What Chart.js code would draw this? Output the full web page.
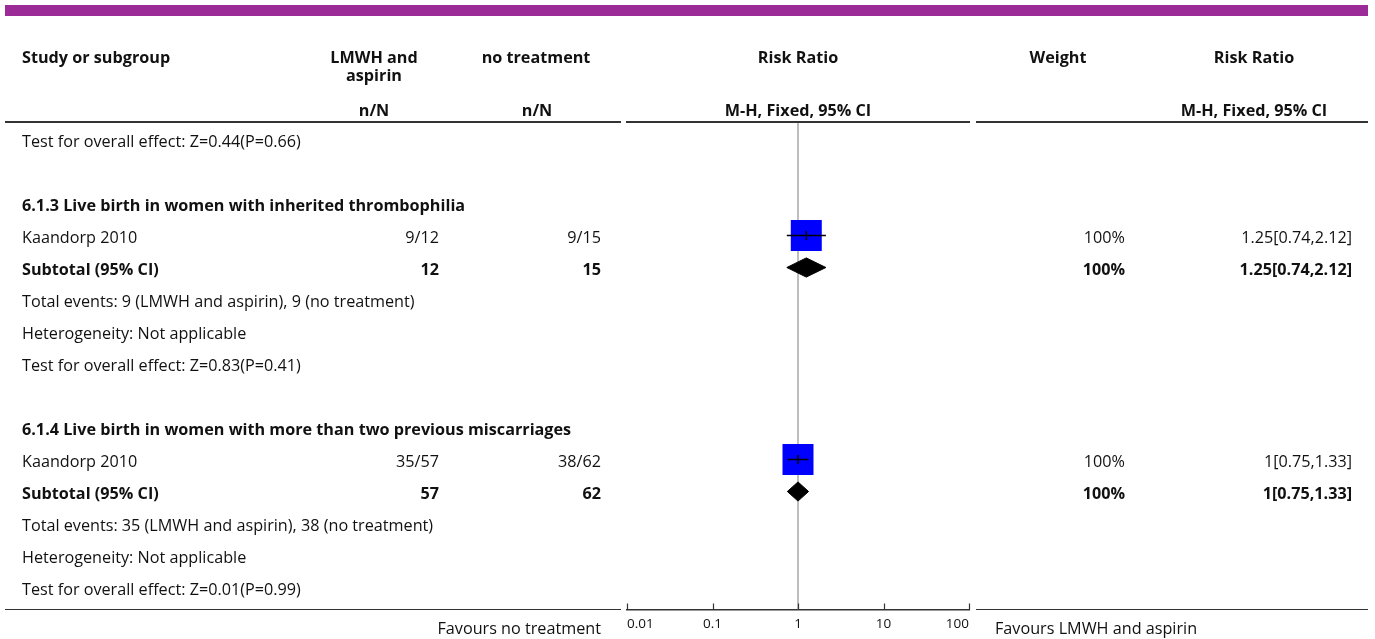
<!DOCTYPE html>
<html>
<head>
<meta charset="utf-8">
<script src="https://cdn.jsdelivr.net/npm/chart.js@4/dist/chart.umd.min.js"></script>
<style>
  html, body { margin: 0; padding: 0; background: #fff; }
  #page { position: relative; width: 1375px; height: 639px; overflow: hidden; font-family: "Open Sans", "Noto Sans", sans-serif; color: #111; }
  #page canvas { position: absolute; left: 0; top: 0; }
  .t { position: absolute; white-space: nowrap; font-size: 16.2px; line-height: 18px; transform: translateY(-50%); }
  .b { font-weight: bold; }
  .c { text-align: center; transform: translate(-50%, -50%); }
  .hl { position: absolute; height: 1.5px; background: #333; }
</style>
</head>
<body>
<div id="page">
  <canvas id="cv" width="1375" height="639"></canvas>
</div>
<script>
// ---------------- data ----------------
const rowLabels = [
  "Test for overall effect: Z=0.44(P=0.66)",
  "",
  "6.1.3 Live birth in women with inherited thrombophilia",
  "Kaandorp 2010",
  "Subtotal (95% CI)",
  "Total events: 9 (LMWH and aspirin), 9 (no treatment)",
  "Heterogeneity: Not applicable",
  "Test for overall effect: Z=0.83(P=0.41)",
  "",
  "6.1.4 Live birth in women with more than two previous miscarriages",
  "Kaandorp 2010",
  "Subtotal (95% CI)",
  "Total events: 35 (LMWH and aspirin), 38 (no treatment)",
  "Heterogeneity: Not applicable",
  "Test for overall effect: Z=0.01(P=0.99)"
];
const rowKinds = ["info","blank","group","study","subtotal","info","info","info","blank","group","study","subtotal","info","info","info"];

// individual studies
const studyRows    = [3, 10];
const studyEvents1 = ["9/12", "35/57"];
const studyEvents2 = ["9/15", "38/62"];
const studyRR      = [1.25, 1];
const studyLo      = [0.74, 0.75];
const studyHi      = [2.12, 1.33];
const studyWeight  = [100, 100];
const studyRRText  = ["1.25[0.74,2.12]", "1[0.75,1.33]"];

// subtotals
const subRows   = [4, 11];
const subN1     = ["12", "57"];
const subN2     = ["15", "62"];
const subRR     = [1.25, 1];
const subLo     = [0.74, 0.75];
const subHi     = [2.12, 1.33];
const subWeight = ["100%", "100%"];
const subRRText = ["1.25[0.74,2.12]", "1[0.75,1.33]"];

// axis
const xTicks      = [0.01, 0.1, 1, 10, 100];
const xTickLabels = ["0.01", "0.1", "1", "10", "100"];
const leftFavours  = "Favours no treatment";
const rightFavours = "Favours LMWH and aspirin";

// ---------------- layout constants ----------------
const Y_MIN = -0.547, Y_MAX = 14.6875;
const SQUARE_R_FULL = 21.9;   // point radius for 100% weight
const DIAMOND_HALF = 0.3;     // in row units

// ---------------- datasets ----------------
const datasets = [];
datasets.push({
  label: 'null', data: [{x: 1, y: Y_MIN}, {x: 1, y: Y_MAX}],
  showLine: true, borderColor: '#a8a8a8', borderWidth: 1.5, pointRadius: 0, order: 10
});
datasets.push({
  label: 'squares',
  data: studyRows.map((r, i) => ({x: studyRR[i], y: r})),
  pointStyle: 'rect',
  pointRadius: studyWeight.map(w => SQUARE_R_FULL * Math.sqrt(w / 100)),
  backgroundColor: '#0000ff', borderColor: '#0000ff', borderWidth: 0, order: 8
});
studyRows.forEach((r, i) => {
  datasets.push({
    label: 'ci' + i, data: [{x: studyLo[i], y: r}, {x: studyHi[i], y: r}],
    showLine: true, borderColor: '#000', borderWidth: 1.5, pointRadius: 0, order: 6
  });
});
datasets.push({
  label: 'centers',
  data: studyRows.map((r, i) => ({x: studyRR[i], y: r})),
  pointStyle: 'line', rotation: 90, pointRadius: 4.5,
  borderColor: '#000', borderWidth: 1.5, order: 5
});
subRows.forEach((r, i) => {
  datasets.push({
    label: 'diamond' + i,
    data: [
      {x: subLo[i], y: r}, {x: subRR[i], y: r - DIAMOND_HALF},
      {x: subHi[i], y: r}, {x: subRR[i], y: r + DIAMOND_HALF},
      {x: subLo[i], y: r}
    ],
    showLine: true, fill: 'shape', backgroundColor: '#000', borderColor: '#000',
    borderWidth: 1, pointRadius: 0, order: 4
  });
});

const tickMarks = {
  id: 'tickMarks',
  afterDraw(chart) {
    const xs = chart.scales.x, ctx = chart.ctx, b = chart.chartArea.bottom;
    ctx.save();
    ctx.strokeStyle = '#333'; ctx.lineWidth = 1.2;
    xs.ticks.forEach(t => {
      const px = Math.round(xs.getPixelForValue(t.value)) + 0.5;
      ctx.beginPath(); ctx.moveTo(px, b - 6); ctx.lineTo(px, b); ctx.stroke();
    });
    ctx.restore();
  }
};

const chart = new Chart(document.getElementById('cv'), {
  type: 'scatter',
  data: { datasets },
  plugins: [tickMarks],
  options: {
    responsive: false, animation: false, devicePixelRatio: 1, events: [],
    layout: { padding: { left: 627, right: 406, top: 122, bottom: 0 } },
    plugins: { legend: { display: false }, tooltip: { enabled: false } },
    scales: {
      x: {
        type: 'logarithmic', min: 0.01, max: 100,
        afterBuildTicks: s => { s.ticks = xTicks.map(v => ({value: v})); },
        afterFit: s => { s.height = 29.5; },
        grid: { display: false, drawTicks: false },
        border: { display: true, color: '#333', width: 1.5 },
        ticks: {
          align: 'inner', padding: 7, color: '#111', maxRotation: 0, autoSkip: false,
          font: { family: '"Open Sans", "Noto Sans", sans-serif', size: 13.5 },
          callback: (v, i) => xTickLabels[i]
        }
      },
      y: { type: 'linear', reverse: true, min: Y_MIN, max: Y_MAX, display: false }
    }
  }
});

// ---------------- text overlay ----------------
const page = document.getElementById('page');
function addText(txt, x, y, cls, align) {
  const d = document.createElement('div');
  d.className = 't ' + (cls || '');
  d.textContent = txt;
  if (align === 'right') { d.style.right = (1375 - x) + 'px'; d.style.textAlign = 'right'; }
  else if (align === 'center') { d.style.left = x + 'px'; d.classList.add('c'); }
  else { d.style.left = x + 'px'; }
  d.style.top = y + 'px';
  page.appendChild(d);
  return d;
}
function addLine(x1, x2, y) {
  const d = document.createElement('div');
  d.className = 'hl';
  d.style.left = x1 + 'px'; d.style.width = (x2 - x1) + 'px'; d.style.top = y + 'px';
  page.appendChild(d);
}

// purple banner
const banner = document.createElement('div');
banner.style.cssText = 'position:absolute;left:5px;top:5px;width:1363px;height:11px;background:#9b2b96;';
page.appendChild(banner);

// header
addText("Study or subgroup", 22, 57, 'b');
addText("LMWH and", 374, 57, 'b', 'center');
addText("aspirin", 374, 75, 'b', 'center');
addText("no treatment", 536, 57, 'b', 'center');
addText("Risk Ratio", 798, 57, 'b', 'center');
addText("Weight", 1058, 57, 'b', 'center');
addText("Risk Ratio", 1254, 57, 'b', 'center');
addText("n/N", 374, 110, 'b', 'center');
addText("n/N", 537, 110, 'b', 'center');
addText("M-H, Fixed, 95% CI", 798, 110, 'b', 'center');
addText("M-H, Fixed, 95% CI", 1254, 110, 'b', 'center');

// rule lines
const ca = chart.chartArea;
addLine(5, 621, ca.top - 0.75);
addLine(626, 970, ca.top - 0.75);
addLine(976, 1368, ca.top - 0.75);
addLine(5, 621, ca.bottom - 0.75);
addLine(976, 1368, ca.bottom - 0.75);

const ys = chart.scales.y;
rowLabels.forEach((lab, r) => {
  if (!lab) return;
  const bold = rowKinds[r] === 'group' || rowKinds[r] === 'subtotal';
  addText(lab, 22, ys.getPixelForValue(r) + 1, bold ? 'b' : '');
});
studyRows.forEach((r, i) => {
  const y = ys.getPixelForValue(r) + 1;
  addText(studyEvents1[i], 439, y, '', 'right');
  addText(studyEvents2[i], 601, y, '', 'right');
  addText(studyWeight[i] + '%', 1125, y, '', 'right');
  addText(studyRRText[i], 1352, y, '', 'right');
});
subRows.forEach((r, i) => {
  const y = ys.getPixelForValue(r) + 1;
  addText(subN1[i], 439, y, 'b', 'right');
  addText(subN2[i], 601, y, 'b', 'right');
  addText(subWeight[i], 1125, y, 'b', 'right');
  addText(subRRText[i], 1352, y, 'b', 'right');
});
addText(leftFavours, 601, 628, '', 'right');
addText(rightFavours, 995, 628, '');
</script>
</body>
</html>
